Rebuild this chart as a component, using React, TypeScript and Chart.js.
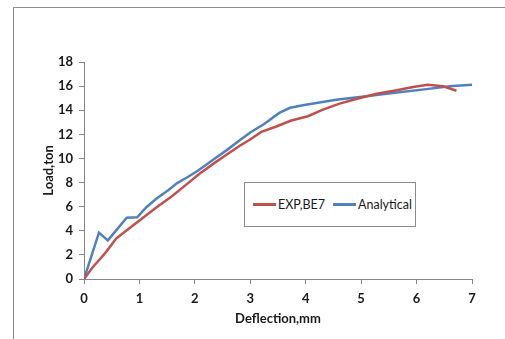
import React, { useEffect, useRef } from "react";
import { Chart, registerables } from "chart.js";

Chart.register(...registerables);

// Experimental load–deflection curve (beam BE7)
const expDeflection = [0, 0.16, 0.25, 0.4, 0.58, 0.76, 1.0, 1.31, 1.58, 1.85, 2.09, 2.33, 2.57, 2.81, 2.99, 3.2, 3.47, 3.74, 4.04, 4.31, 4.61, 4.91, 5.28, 5.64, 5.94, 6.2, 6.48, 6.72];
const expLoad = [0, 1.0, 1.45, 2.25, 3.35, 4.0, 4.85, 5.95, 6.85, 7.85, 8.75, 9.55, 10.3, 11.05, 11.55, 12.2, 12.65, 13.15, 13.5, 14.05, 14.55, 14.93, 15.37, 15.65, 15.92, 16.12, 15.98, 15.62];

// Analytical prediction
const anaDeflection = [0, 0.27, 0.43, 0.77, 0.96, 1.13, 1.31, 1.52, 1.68, 1.85, 2.06, 2.33, 2.57, 2.81, 3.0, 3.25, 3.53, 3.72, 4.0, 4.55, 5.09, 5.57, 6.18, 6.6, 7.0];
const anaLoad = [0, 3.85, 3.2, 5.08, 5.12, 5.97, 6.67, 7.36, 7.96, 8.4, 9.0, 9.9, 10.67, 11.5, 12.15, 12.85, 13.8, 14.2, 14.45, 14.87, 15.15, 15.42, 15.75, 15.98, 16.12];

const seriesNames = ["EXP,BE7", "Analytical"];
const seriesColors = ["#C0504D", "#4F81BD"];

const xTitle = "Deflection,mm";
const yTitle = "Load,ton";
const xRange = [0, 7];
const yRange = [0, 18];

const FONT = "Lato, 'Open Sans', sans-serif";
const AXIS_GRAY = "#868686";
const TEXT = "#1a1a1a";

const toPoints = (xs: number[], ys: number[]) => xs.map((x, i) => ({ x, y: ys[i] }));

export default function App() {
  const canvasRef = useRef<HTMLCanvasElement | null>(null);

  useEffect(() => {
    document.body.style.margin = "0";
    const canvas = canvasRef.current;
    if (!canvas) return;

    const chart = new Chart(canvas, {
      type: "line",
      data: {
        datasets: [
          {
            label: seriesNames[0],
            data: toPoints(expDeflection, expLoad),
            borderColor: seriesColors[0],
            backgroundColor: seriesColors[0],
            borderWidth: 2.5,
            pointRadius: 0,
            tension: 0,
          },
          {
            label: seriesNames[1],
            data: toPoints(anaDeflection, anaLoad),
            borderColor: seriesColors[1],
            backgroundColor: seriesColors[1],
            borderWidth: 2.5,
            pointRadius: 0,
            tension: 0,
          },
        ],
      },
      options: {
        responsive: false,
        animation: false,
        layout: { padding: { left: 37, top: 62, right: 33, bottom: 8 } },
        plugins: { legend: { display: false }, tooltip: { enabled: false } },
        scales: {
          x: {
            type: "linear",
            min: xRange[0],
            max: xRange[1],
            afterFit: (s: any) => {
              s.height = 52;
            },
            ticks: {
              stepSize: 1,
              padding: 7,
              color: TEXT,
              font: { family: FONT, size: 13, weight: "bold" },
            },
            grid: { drawOnChartArea: false, drawTicks: true, tickLength: 5, color: AXIS_GRAY },
            border: { display: true, color: AXIS_GRAY, width: 1 },
            title: {
              display: true,
              text: xTitle,
              color: TEXT,
              font: { family: FONT, size: 13, weight: "bold" },
            },
          },
          y: {
            type: "linear",
            min: yRange[0],
            max: yRange[1],
            afterFit: (s: any) => {
              s.width = 47;
            },
            ticks: {
              stepSize: 2,
              padding: 6,
              color: TEXT,
              font: { family: FONT, size: 13, weight: "bold" },
            },
            grid: { drawOnChartArea: false, drawTicks: true, tickLength: 5, color: AXIS_GRAY },
            border: { display: true, color: AXIS_GRAY, width: 1 },
            title: {
              display: true,
              text: yTitle,
              color: TEXT,
              font: { family: FONT, size: 13, weight: "bold" },
            },
          },
        },
      },
    });

    return () => chart.destroy();
  }, []);

  return (
    <div style={{ position: "relative", width: 505, height: 339, overflow: "hidden", background: "#fff" }}>
      <div
        style={{
          position: "absolute",
          left: 13,
          top: 7,
          width: 600,
          height: 400,
          border: "1px solid #8c8c8c",
          boxSizing: "border-box",
        }}
      />
      <canvas ref={canvasRef} width={505} height={339} style={{ position: "absolute", left: 0, top: 0 }} />
      <div
        style={{
          position: "absolute",
          left: 244,
          top: 182,
          width: 172,
          height: 45,
          boxSizing: "border-box",
          border: "1px solid #8c8c8c",
          background: "#fff",
          display: "flex",
          alignItems: "center",
          paddingLeft: 8,
          fontFamily: FONT,
          fontSize: 12.5,
          color: TEXT,
          whiteSpace: "nowrap",
        }}
      >
        {seriesNames.map((name, i) => (
          <span key={name} style={{ display: "flex", alignItems: "center", marginRight: 8 }}>
            <span style={{ display: "inline-block", width: 23, height: 3, background: seriesColors[i], marginRight: 2 }} />
            <span>{name}</span>
          </span>
        ))}
      </div>
    </div>
  );
}
